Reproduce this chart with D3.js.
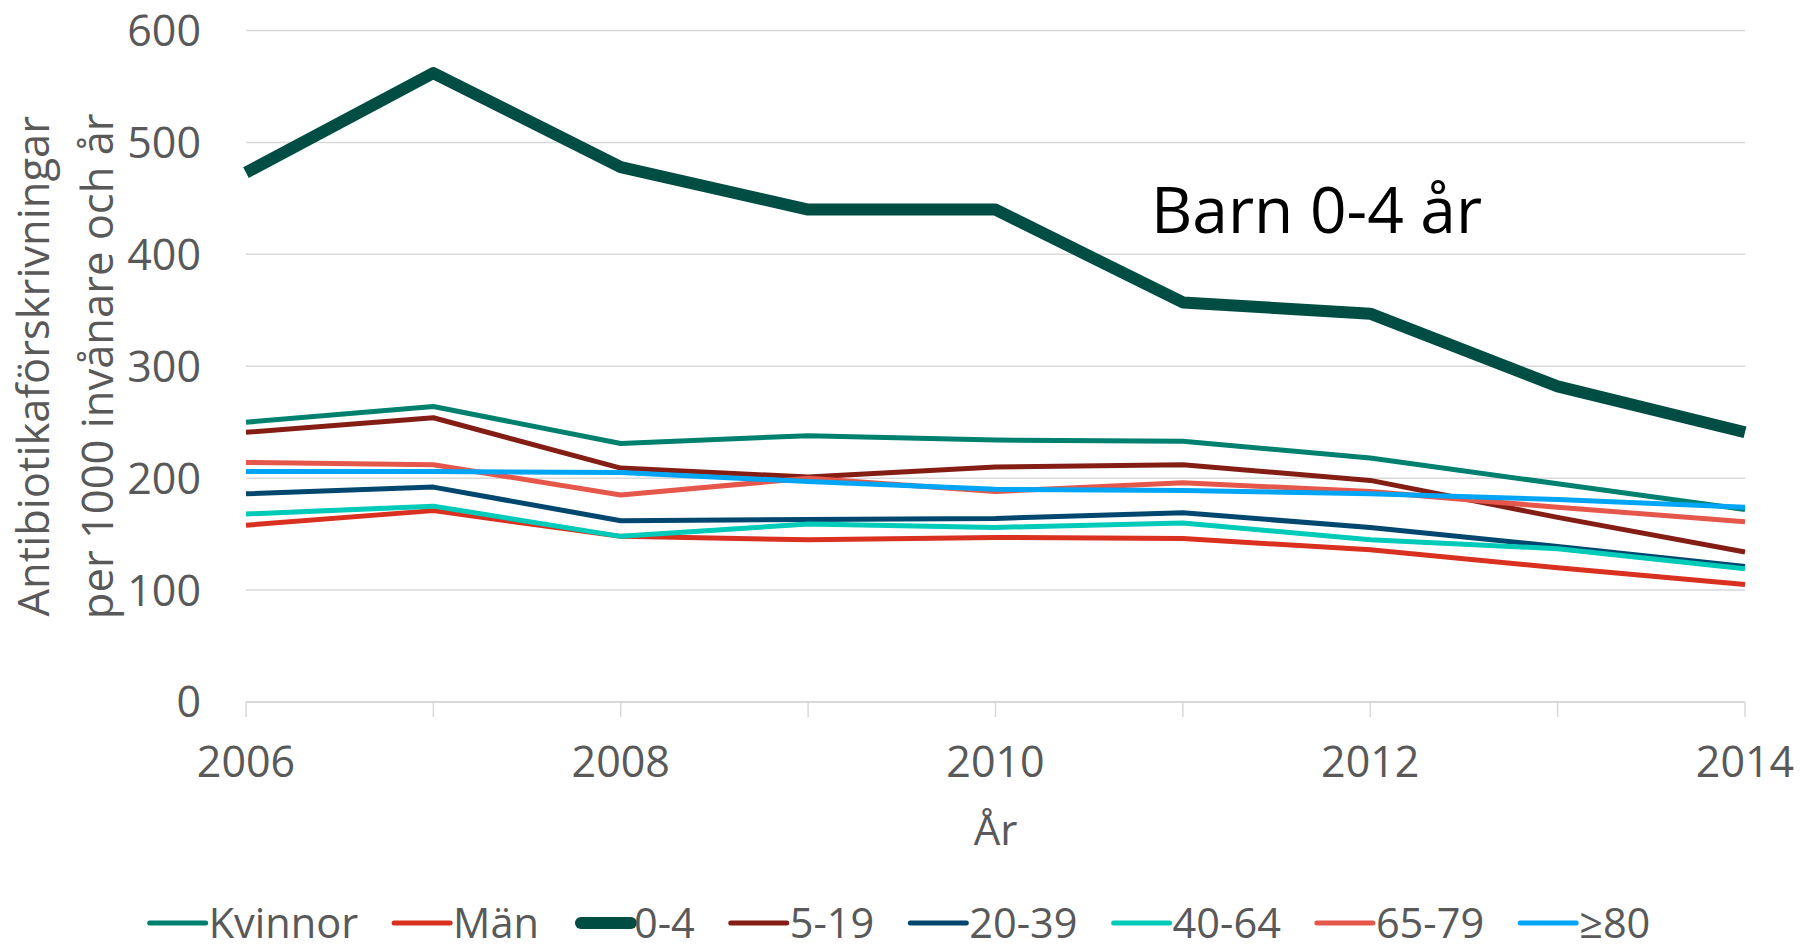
<!DOCTYPE html>
<html>
<head>
<meta charset="utf-8">
<script src="https://cdn.jsdelivr.net/npm/d3@7"></script>
<style>
  body { margin: 0; background: #fff; }
  text { font-family: "Open Sans", sans-serif; }
</style>
</head>
<body>
<script>
var years = [2006, 2007, 2008, 2009, 2010, 2011, 2012, 2013, 2014];
var seriesNames = ["Kvinnor", "Män", "0-4", "5-19", "20-39", "40-64", "65-79", "≥80"];
var kvinnor = [250, 264, 231, 238, 234, 233, 218, 195, 172];
var man = [158, 171, 148, 145, 147, 146, 136, 120, 105];
var barn04 = [473, 562, 478, 440, 440, 357, 347, 282, 241];
var unga519 = [241, 254, 209, 201, 210, 212, 198, 165, 134];
var vuxna2039 = [186, 192, 162, 163, 164, 169, 156, 139, 121];
var vuxna4064 = [168, 175, 148, 159, 156, 160, 145, 137, 119];
var aldre6579 = [214, 212, 185, 200, 188, 196, 188, 174, 161];
var aldre80 = [206, 206, 205, 197, 190, 189, 186, 181, 174];
var yTicks = [0, 100, 200, 300, 400, 500, 600];
var xTickLabels = [2006, 2008, 2010, 2012, 2014];

var colors = ["#00806f", "#d9301f", "#004d44", "#841e15", "#00476f", "#00cab8", "#e5574a", "#00a6f5"];
var widths = [5, 5, 12, 5, 5, 5, 5, 5];
var allValues = [kvinnor, man, barn04, unga519, vuxna2039, vuxna4064, aldre6579, aldre80];

var w = 1800, h = 944;
var plotLeft = 246, plotRight = 1745, plotTop = 30.5, plotBottom = 702;

var svg = d3.select("body").append("svg")
  .attr("width", w)
  .attr("height", h);

var x = d3.scaleLinear().domain([2006, 2014]).range([plotLeft, plotRight]);
var y = d3.scaleLinear().domain([0, 600]).range([plotBottom, plotTop]);

// gridlines
svg.selectAll("line.grid")
  .data(yTicks.filter(function(d){ return d > 0; }))
  .enter().append("line")
  .attr("x1", plotLeft).attr("x2", plotRight)
  .attr("y1", function(d){ return y(d); })
  .attr("y2", function(d){ return y(d); })
  .attr("stroke", "#d9d9d9")
  .attr("stroke-width", 1.5);

// x axis line with ticks
svg.append("line")
  .attr("x1", plotLeft).attr("x2", plotRight)
  .attr("y1", y(0)).attr("y2", y(0))
  .attr("stroke", "#d9d9d9").attr("stroke-width", 2);
svg.selectAll("line.xtick")
  .data(years)
  .enter().append("line")
  .attr("x1", function(d){ return x(d); })
  .attr("x2", function(d){ return x(d); })
  .attr("y1", y(0)).attr("y2", y(0) + 15)
  .attr("stroke", "#d9d9d9").attr("stroke-width", 1.5);

// y tick labels
svg.selectAll("text.ylab")
  .data(yTicks)
  .enter().append("text")
  .text(function(d){ return d; })
  .attr("x", 201)
  .attr("y", function(d){ return y(d); })
  .attr("dy", "0.36em")
  .attr("text-anchor", "end")
  .attr("font-size", 43)
  .attr("fill", "#595959");

// x tick labels
svg.selectAll("text.xlab")
  .data(xTickLabels)
  .enter().append("text")
  .text(function(d){ return d; })
  .attr("x", function(d){ return x(d); })
  .attr("y", 777)
  .attr("text-anchor", "middle")
  .attr("font-size", 43)
  .attr("fill", "#595959");

// axis titles
svg.append("text")
  .text("År")
  .attr("x", (plotLeft + plotRight) / 2)
  .attr("y", 845)
  .attr("text-anchor", "middle")
  .attr("font-size", 42)
  .attr("fill", "#595959");

var yTitle = svg.append("text")
  .attr("transform", "translate(33," + ((plotTop + plotBottom) / 2) + ") rotate(-90)")
  .attr("text-anchor", "middle")
  .attr("font-size", 43.5)
  .attr("fill", "#595959");
yTitle.append("tspan").attr("x", 0).attr("dy", "0.36em").text("Antibiotikaförskrivningar");
yTitle.append("tspan").attr("x", 0).attr("dy", 64).text("per 1000 invånare och år");

// lines
var line = d3.line()
  .x(function(d, i){ return x(years[i]); })
  .y(function(d){ return y(d); });

svg.selectAll("path.series")
  .data(allValues)
  .enter().append("path")
  .attr("d", function(d){ return line(d); })
  .attr("fill", "none")
  .attr("stroke", function(d, i){ return colors[i]; })
  .attr("stroke-width", function(d, i){ return widths[i]; })
  .attr("stroke-linejoin", "round");

// annotation
svg.append("text")
  .text("Barn 0-4 år")
  .attr("x", 1151)
  .attr("y", 233)
  .attr("font-size", 64)
  .attr("fill", "#000");

// legend
var legend = svg.append("g");
var lx = 0;
seriesNames.forEach(function(name, i){
  var g = legend.append("g").attr("transform", "translate(" + lx + ",0)");
  g.append("line")
    .attr("x1", widths[i] > 5 ? 6 : 0).attr("x2", 56)
    .attr("y1", 0).attr("y2", 0)
    .attr("stroke", colors[i])
    .attr("stroke-width", widths[i])
    .attr("stroke-linecap", "round");
  var t = g.append("text")
    .text(name)
    .attr("x", 59)
    .attr("dy", "0.36em")
    .attr("font-size", 41.5)
    .attr("fill", "#595959");
  lx += 59 + t.node().getComputedTextLength() + 36;
});
lx -= 36;
legend.attr("transform", "translate(" + (w / 2 - lx / 2) + ",923)");
</script>
</body>
</html>
